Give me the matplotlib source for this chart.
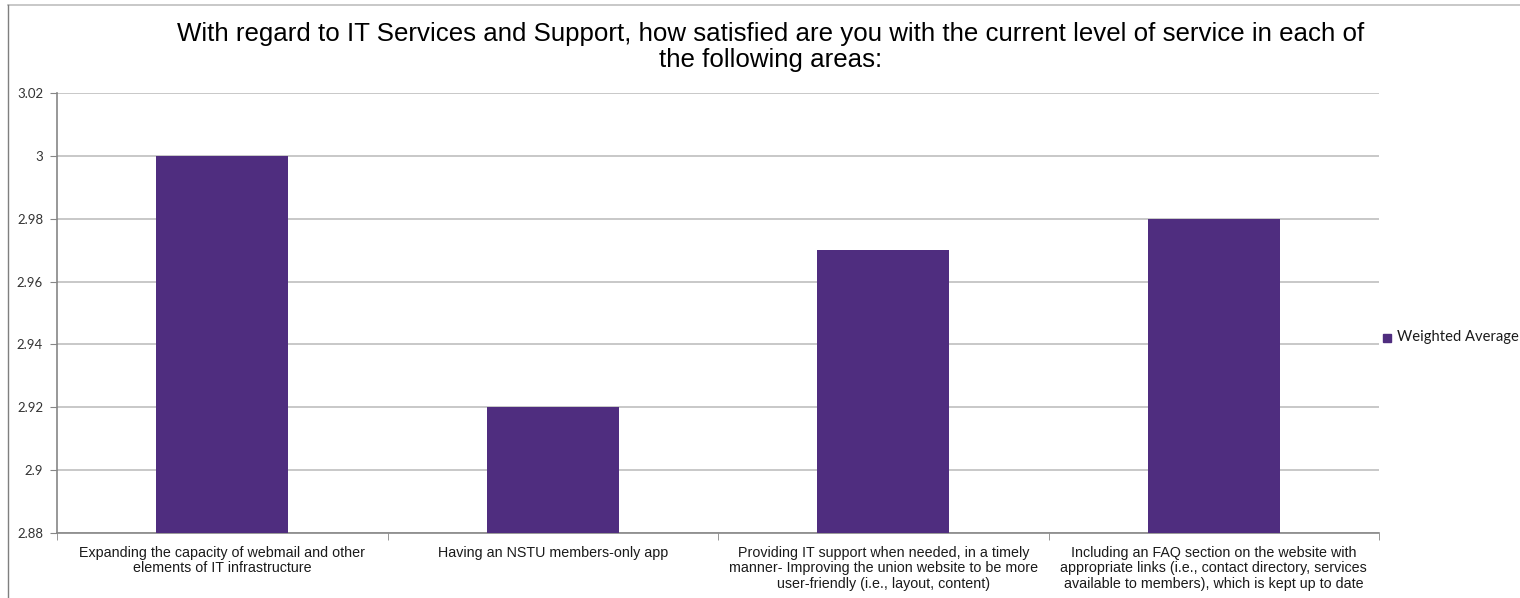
import matplotlib
matplotlib.use("Agg")
import matplotlib.pyplot as plt
from matplotlib.lines import Line2D
from matplotlib.patches import Rectangle

categories = [
    "Expanding the capacity of webmail and other\nelements of IT infrastructure",
    "Having an NSTU members-only app",
    "Providing IT support when needed, in a timely\nmanner- Improving the union website to be more\nuser-friendly (i.e., layout, content)",
    "Including an FAQ section on the website with\nappropriate links (i.e., contact directory, services\navailable to members), which is kept up to date",
]
weighted_average = [3.00, 2.92, 2.97, 2.98]
y_ticks = [2.88, 2.90, 2.92, 2.94, 2.96, 2.98, 3.00, 3.02]
y_tick_labels = ["2.88", "2.9", "2.92", "2.94", "2.96", "2.98", "3", "3.02"]

title = ("With regard to IT Services and Support, how satisfied are you with the current level of service in each of\n"
         "the following areas:")
series_name = "Weighted Average"

bar_color = "#4F2D7F"
grid_color = "#BFBFBF"
axis_color = "#868686"

W, H = 1520, 598
fig = plt.figure(figsize=(W / 100, H / 100), dpi=100)
fig.patch.set_facecolor("white")

# chart-area border (top and left edges visible)
fig.add_artist(Line2D([8 / W, 1.0], [1 - 4.5 / H, 1 - 4.5 / H], transform=fig.transFigure,
                      color="#BFBFBF", lw=1.2))
fig.add_artist(Line2D([8 / W, 8 / W], [0, 1 - 4.5 / H], transform=fig.transFigure,
                      color="#7F7F7F", lw=1.0))

left, right, top, bottom = 57, 1379, 93, 533
ax = fig.add_axes([left / W, 1 - bottom / H, (right - left) / W, (bottom - top) / H])

x = list(range(len(categories)))
ax.bar(x, weighted_average, width=0.4, color=bar_color, zorder=3)

ax.set_xlim(-0.5, len(categories) - 0.5)
ax.set_ylim(y_ticks[0], y_ticks[-1])
ax.set_yticks(y_ticks)
ax.set_yticklabels(y_tick_labels, fontsize=9.5, family="Lato", color="#333333")
ax.yaxis.grid(True, color=grid_color, lw=1.2, zorder=0)
ax.set_axisbelow(True)

# category labels centred under bars, tick marks at category boundaries
ax.set_xticks(x)
ax.set_xticklabels(categories, fontsize=10.3, family="Liberation Sans", color="#1a1a1a",
                   linespacing=1.16)
ax.tick_params(axis="x", length=0, pad=9)
ax.set_xticks([i - 0.5 for i in range(len(categories) + 1)], minor=True)
ax.tick_params(axis="x", which="minor", length=5, color=axis_color, direction="out")
ax.tick_params(axis="y", length=5, color=axis_color, direction="out", pad=5)

for s in ["top", "right"]:
    ax.spines[s].set_visible(False)
for s in ["left", "bottom"]:
    ax.spines[s].set_color(axis_color)
    ax.spines[s].set_linewidth(1.2)

fig.text(771 / W, 1 - 47 / H, title, ha="center", va="center", fontsize=18.6,
         family="Liberation Sans", color="#000000", linespacing=1.08)

# legend entry
fig.add_artist(Rectangle((1383 / W, 1 - 342 / H), 8 / W, 8 / H, transform=fig.transFigure,
                         color=bar_color))
fig.text(1397 / W, 1 - 337 / H, series_name, ha="left", va="center", fontsize=10.6,
         family="Lato", color="#1a1a1a")

fig.savefig("out.png", dpi=100)
